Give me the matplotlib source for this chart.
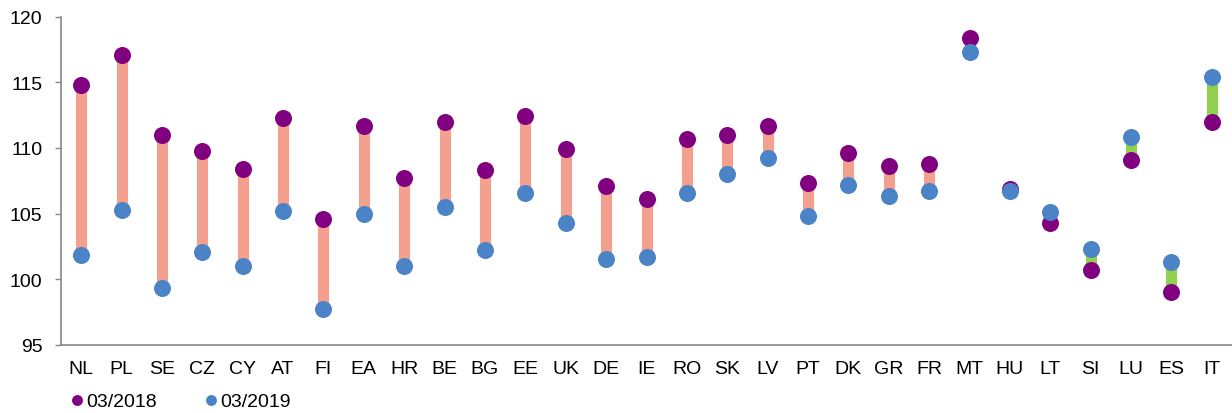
import matplotlib.pyplot as plt
import numpy as np

plt.rcParams['font.family'] = ['Liberation Sans', 'DejaVu Sans']

# house price index, 2015 = 100
countries = ["NL", "PL", "SE", "CZ", "CY", "AT", "FI", "EA", "HR", "BE", "BG", "EE", "UK", "DE", "IE",
             "RO", "SK", "LV", "PT", "DK", "GR", "FR", "MT", "HU", "LT", "SI", "LU", "ES", "IT"]
mar_2018 = [114.8, 117.1, 111.0, 109.8, 108.4, 112.3, 104.6, 111.7, 107.7, 112.0, 108.3, 112.4, 109.9, 107.1, 106.1,
            110.7, 111.0, 111.7, 107.3, 109.6, 108.6, 108.8, 118.4, 106.9, 104.3, 100.7, 109.1, 99.0, 112.0]
mar_2019 = [101.8, 105.3, 99.3, 102.1, 101.0, 105.2, 97.7, 105.0, 101.0, 105.5, 102.2, 106.6, 104.3, 101.5, 101.7,
            106.6, 108.0, 109.2, 104.8, 107.2, 106.3, 106.7, 117.3, 106.7, 105.1, 102.3, 110.8, 101.3, 115.4]

x = np.arange(len(countries))
a = np.array(mar_2018)
b = np.array(mar_2019)
bar_colors = np.where(b < a, "#F4A08E", "#92D050")

fig = plt.figure(figsize=(12.32, 4.14), dpi=100)
ax = fig.add_axes([61 / 1232, 1 - 345.7 / 414, 1 - 61 / 1232, 328 / 414])

ax.vlines(x, a, b, colors=bar_colors, linewidth=8, zorder=1)
ax.scatter(x, a, s=150, color="#800080", zorder=2, linewidths=0, label="03/2018")
ax.scatter(x, b, s=150, color="#4A84C6", zorder=3, linewidths=0, label="03/2019")

ax.set_xlim(-0.5, len(countries) - 0.5)
ax.set_ylim(95, 120)
ax.set_yticks([95, 100, 105, 110, 115, 120])
ax.set_xticks(x)
ax.set_xticklabels(countries)
ax.tick_params(axis="x", length=0, pad=11, labelsize=14)
ax.tick_params(axis="y", length=4.5, color="#888888", width=1, labelsize=14, pad=9)

for s in ["top", "right"]:
    ax.spines[s].set_visible(False)
for s in ["left", "bottom"]:
    ax.spines[s].set_color("#888888")
    ax.spines[s].set_linewidth(1.2)

fig.legend(*ax.get_legend_handles_labels(), loc="center left",
           bbox_to_anchor=(71.9 / 1232, 1 - 401.7 / 414), ncol=2, frameon=False,
           fontsize=14, markerscale=0.64, handletextpad=0.2, columnspacing=2.5,
           borderaxespad=0, borderpad=0, handlelength=0.56)

fig.savefig("out.png", dpi=100)
